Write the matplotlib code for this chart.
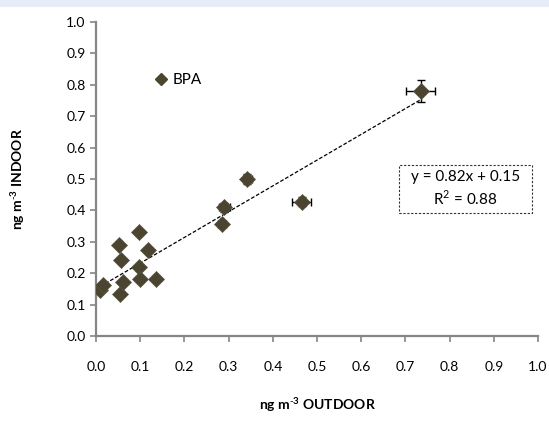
import matplotlib.pyplot as plt
from matplotlib.patches import Rectangle
from matplotlib.lines import Line2D

plt.rcParams['font.family'] = ['Lato', 'DejaVu Sans']
plt.rcParams['mathtext.fontset'] = 'custom'
plt.rcParams['mathtext.rm'] = 'Lato'
plt.rcParams['mathtext.bf'] = 'Lato:bold'

# outdoor / indoor concentrations (ng m-3)
outdoor = [0.010, 0.016, 0.055, 0.062, 0.057, 0.051, 0.098, 0.098, 0.100, 0.117, 0.135,
           0.285, 0.290, 0.342, 0.465, 0.735]
indoor = [0.146, 0.163, 0.133, 0.171, 0.242, 0.289, 0.330, 0.220, 0.183, 0.274, 0.183,
          0.356, 0.410, 0.500, 0.428, 0.780]
outdoor_err = [0, 0, 0, 0, 0, 0, 0, 0, 0, 0, 0, 0.008, 0.012, 0.010, 0.022, 0.033]
indoor_err = [0, 0, 0, 0, 0, 0, 0, 0, 0, 0, 0, 0.010, 0.015, 0.015, 0.015, 0.035]

slope, intercept, r2 = 0.82, 0.15, 0.88
legend_pos = (0.11, 0.815)

ticks = [i / 10 for i in range(11)]

fig = plt.figure(figsize=(5.49, 4.37), dpi=100)
fig.patches.append(Rectangle((0, 1 - 7 / 437), 1, 7 / 437, transform=fig.transFigure,
                             facecolor='#e6ecf8', edgecolor='none'))
ax = fig.add_axes([0.175, 0.231, 0.805, 0.719])

mcolor = '#4a4430'
ax.errorbar(outdoor, indoor, xerr=outdoor_err, yerr=indoor_err, fmt='none',
            ecolor='black', elinewidth=1, capsize=3, capthick=1, zorder=2)
ax.plot(outdoor, indoor, 'D', color=mcolor, markersize=8.5,
        markeredgecolor='#5a5440', markeredgewidth=0.5, zorder=3)

# linear trend line
xs = [min(outdoor), max(outdoor)]
ax.plot(xs, [slope * x + intercept for x in xs], color='black', linestyle=(0, (3, 1.5)),
        linewidth=0.9, zorder=1)

# equation box
ax.add_patch(Rectangle((0.685, 0.392), 0.301, 0.153, facecolor='white', edgecolor='#333333',
                       linestyle=(0, (2, 1.5)), linewidth=0.8, zorder=4))
ax.text(0.836, 0.468, f'y = {slope}x + {intercept}\nR$^2$ = {r2}', ha='center', va='center',
        fontsize=11, linespacing=1.3, zorder=5)

handle = Line2D([], [], marker='D', linestyle='none', color=mcolor, markersize=6.5)
ax.legend([handle], ['BPA'], loc='center left', bbox_to_anchor=legend_pos,
          bbox_transform=ax.transData, frameon=False, fontsize=11,
          handletextpad=0.1, handlelength=1.2, borderpad=0)

ax.set_xlim(0, 1)
ax.set_ylim(0, 1)
ax.set_xticks(ticks)
ax.set_yticks(ticks)
ax.set_xticklabels([f'{t:.1f}' for t in ticks])
ax.set_yticklabels([f'{t:.1f}' for t in ticks])
ax.tick_params(colors='#868686', labelcolor='black', labelsize=10, length=4, width=1.2)
ax.tick_params(axis='x', pad=14)
for s in ['top', 'right']:
    ax.spines[s].set_visible(False)
for s in ['left', 'bottom']:
    ax.spines[s].set_color('#868686')
    ax.spines[s].set_linewidth(1.6)

ax.set_xlabel('ng m$^{\\mathbf{\\text{-}3}}$ OUTDOOR', fontsize=10, fontweight='bold', labelpad=16)
ax.set_ylabel('ng m$^{\\mathbf{\\text{-}3}}$ INDOOR', fontsize=10, fontweight='bold', labelpad=28)

fig.savefig('out.png', dpi=100)
